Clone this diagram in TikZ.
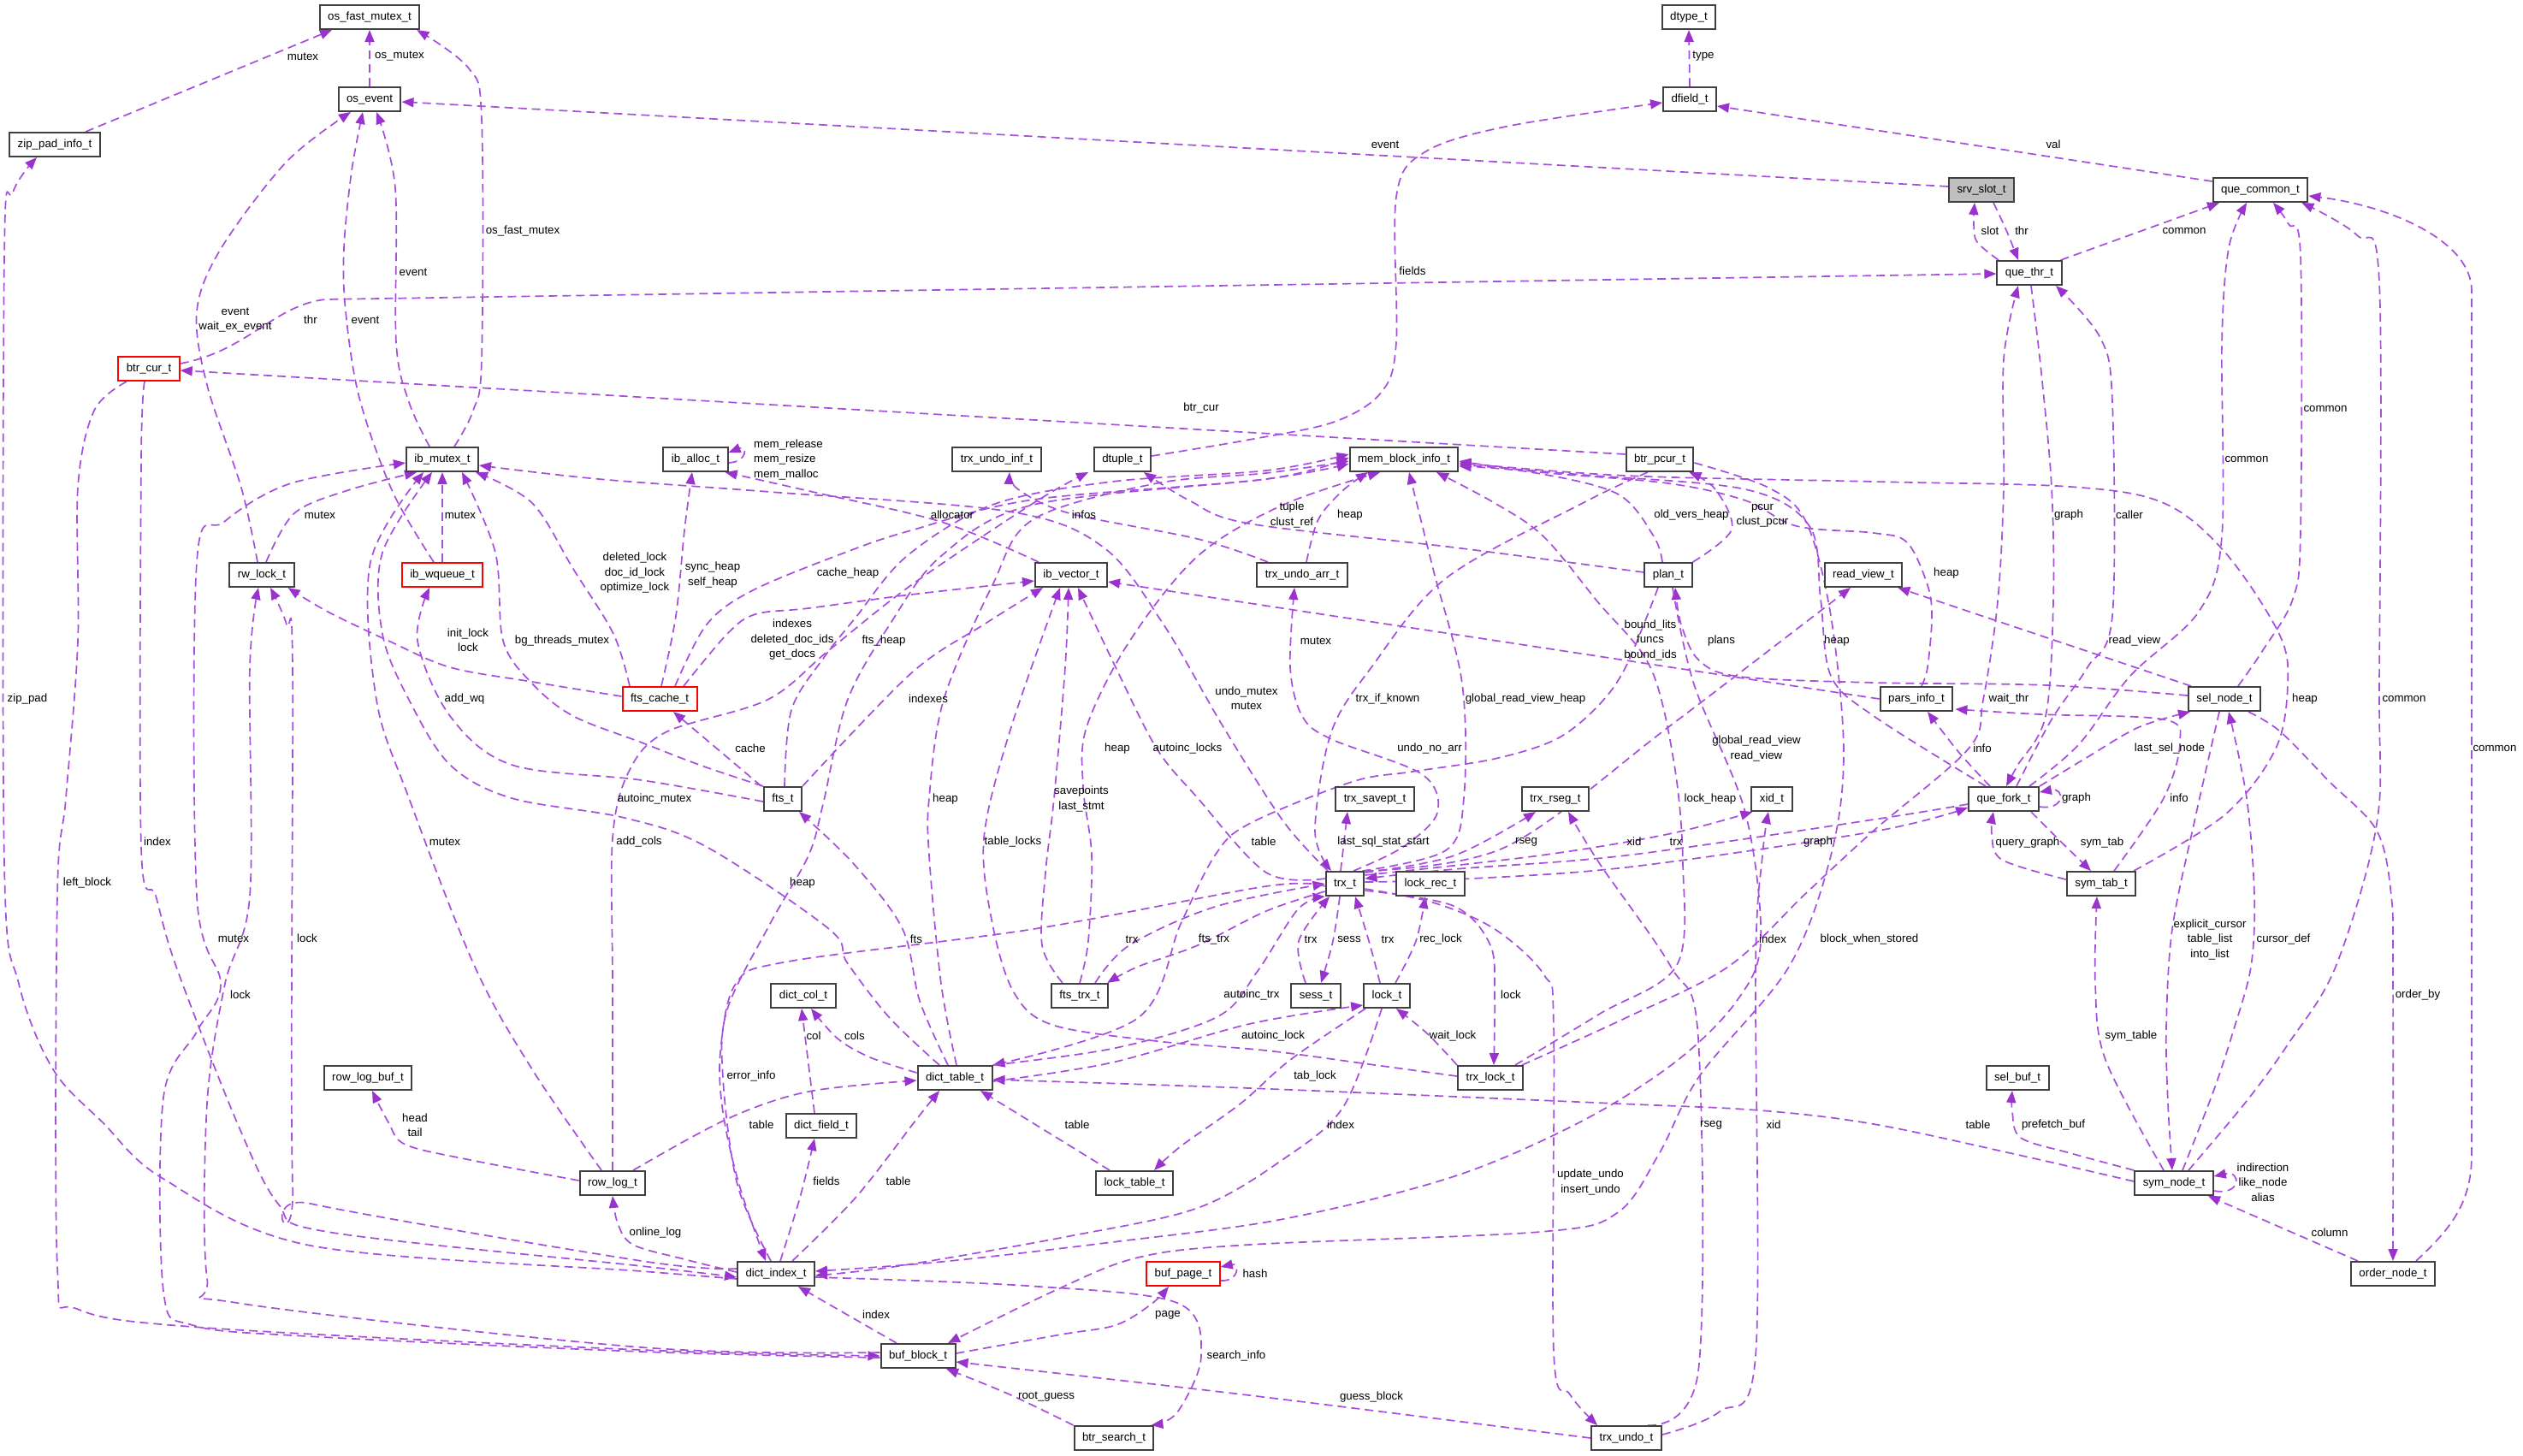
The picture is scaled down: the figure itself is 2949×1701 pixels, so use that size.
\documentclass[tikz,border=0pt]{standalone}
\usepackage{fontspec}
\newfontfamily\dxfont{Liberation Sans}
\usetikzlibrary{arrows.meta}
\pgfdeclarelayer{bg}
\pgfdeclarelayer{edges}
\pgfsetlayers{bg,edges,main}
\definecolor{edgec}{HTML}{A64FDC}
\definecolor{tipc}{HTML}{9A32CD}
\definecolor{boxc}{HTML}{404040}
\definecolor{slotfill}{HTML}{BFBFBF}
\newcommand\dxsize{\dxfont\fontsize{13.3}{17.5}\selectfont}
\tikzset{
  dbox/.style={draw=boxc, line width=2pt, fill=white, font=\dxsize, inner xsep=9.5pt, inner ysep=0pt, minimum height=28pt, text height=9.8pt, text depth=2.8pt},
  rbox/.style={dbox, draw=red},
  edge/.style={draw=edgec, line width=1.7pt, dash pattern=on 10pt off 6pt, -{Triangle[length=14pt,width=11pt,color=tipc]}},
  lbl/.style={font=\dxsize, inner sep=0pt, align=center},
  sm/.style={smooth, tension=0.55},
}
\begin{document}
\begin{tikzpicture}[x=1pt,y=-1pt]
\begin{pgfonlayer}{bg}
\fill[white] (0,0) rectangle (2949,1701);
\end{pgfonlayer}
\useasboundingbox (0,0) rectangle (2949,1701);
% ---------------- nodes
\node[dbox] (osfm) at (432,20) {os\_fast\_mutex\_t};
\node[dbox] (osev) at (432,116) {os\_event};
\node[dbox] (zip) at (64,169) {zip\_pad\_info\_t};
\node[dbox] (dtype) at (1974,20) {dtype\_t};
\node[dbox] (dfield) at (1975,116) {dfield\_t};
\node[dbox, fill=slotfill] (slot) at (2316,222) {srv\_slot\_t};
\node[dbox] (qcom) at (2642,222) {que\_common\_t};
\node[dbox] (qthr) at (2372,319) {que\_thr\_t};
\node[rbox] (bcur) at (174,431) {btr\_cur\_t};
\node[dbox] (ibm) at (517,537) {ib\_mutex\_t};
\node[dbox] (alloc) at (813,537) {ib\_alloc\_t};
\node[dbox] (uinf) at (1165,537) {trx\_undo\_inf\_t};
\node[dbox] (dtup) at (1312,537) {dtuple\_t};
\node[dbox] (mem) at (1641,537) {mem\_block\_info\_t};
\node[dbox] (pcur) at (1940,537) {btr\_pcur\_t};
\node[dbox] (rw) at (306,672) {rw\_lock\_t};
\node[rbox] (wq) at (517,672) {ib\_wqueue\_t};
\node[dbox] (vec) at (1252,672) {ib\_vector\_t};
\node[dbox] (uarr) at (1522,672) {trx\_undo\_arr\_t};
\node[dbox] (plan) at (1950,672) {plan\_t};
\node[dbox] (rv) at (2178,672) {read\_view\_t};
\node[rbox] (fcache) at (771,817) {fts\_cache\_t};
\node[dbox] (pinfo) at (2240,817) {pars\_info\_t};
\node[dbox] (sel) at (2600,817) {sel\_node\_t};
\node[dbox] (fts) at (915,934) {fts\_t};
\node[dbox] (svpt) at (1607,934) {trx\_savept\_t};
\node[dbox] (rseg) at (1818,934) {trx\_rseg\_t};
\node[dbox] (xid) at (2071,934) {xid\_t};
\node[dbox] (qfork) at (2342,934) {que\_fork\_t};
\node[dbox] (trx) at (1572,1033) {trx\_t};
\node[dbox] (lrec) at (1672,1033) {lock\_rec\_t};
\node[dbox] (stab) at (2456,1033) {sym\_tab\_t};
\node[dbox] (dcol) at (939,1164) {dict\_col\_t};
\node[dbox] (ftrx) at (1262,1164) {fts\_trx\_t};
\node[dbox] (sess) at (1538,1164) {sess\_t};
\node[dbox] (lock) at (1621,1164) {lock\_t};
\node[dbox] (dtab) at (1116,1260) {dict\_table\_t};
\node[dbox] (tlock) at (1742,1260) {trx\_lock\_t};
\node[dbox] (rlbuf) at (430,1260) {row\_log\_buf\_t};
\node[dbox] (dfld) at (960,1316) {dict\_field\_t};
\node[dbox] (selbuf) at (2358,1260) {sel\_buf\_t};
\node[dbox] (rlog) at (716,1383) {row\_log\_t};
\node[dbox] (ltab) at (1326,1383) {lock\_table\_t};
\node[dbox] (snode) at (2541,1383) {sym\_node\_t};
\node[dbox] (dind) at (907,1489) {dict\_index\_t};
\node[rbox] (bpage) at (1383,1489) {buf\_page\_t};
\node[dbox] (onode) at (2797,1489) {order\_node\_t};
\node[dbox] (bblk) at (1073,1585) {buf\_block\_t};
\node[dbox] (bsrch) at (1302,1681) {btr\_search\_t};
\node[dbox] (undo) at (1901,1681) {trx\_undo\_t};
% ---------------- edges
\begin{pgfonlayer}{edges}
\draw[edge] ([xshift=36pt]zip.north) -- ([xshift=-44pt]osfm.south);
\draw[edge] (osev.north) -- (osfm.south);
\draw[edge] plot[sm] coordinates {([xshift=14pt]ibm.north) (553,480) (563,420) (563,140) (548,80) ([xshift=-4pt]osfm.south east)};
\draw[edge] plot[sm] coordinates {([xshift=-15pt]ibm.north) (478,470) (463,400) (462,220) ([xshift=8pt]osev.south)};
\draw[edge] plot[sm] coordinates {([xshift=-5pt]rw.north) (282,570) (242,450) (230,364) (258,291) (335,189) ([xshift=-22pt]osev.south)};
\draw[edge] plot[sm] coordinates {([xshift=-10pt]wq.north) (459,575) (420,465) (404,364) (402,290) (411,200) ([xshift=-8pt]osev.south)};
\draw[edge] ([yshift=4pt]slot.west) -- ([yshift=-3pt]osev.east);
\draw[edge] ([yshift=6pt]bcur.east) .. controls (290,410) and (320,357) .. (380,350) -- ([yshift=-1pt]qthr.west);
\draw[edge] ([yshift=6pt]pcur.west) -- ([yshift=-2pt]bcur.east);
\draw[edge] plot[sm] coordinates {([yshift=4pt]dtup.east) (1460,514) (1560,493) (1615,458) (1632,400) (1632,230) (1665,178) (1760,148) ([yshift=-4pt]dfield.west)};
\draw[edge] ([yshift=10pt]qcom.west) -- ([yshift=-8pt]dfield.east);
\draw[edge] (dfield.north) -- (dtype.south);
\draw[edge] plot[sm] coordinates {([xshift=14pt]slot.south) (2345,269) ([xshift=-13pt]qthr.north)};
\draw[edge] plot[sm] coordinates {([xshift=-36pt]qthr.north) (2311,283) (2307,262) ([xshift=-8pt]slot.south)};
\draw[edge] ([xshift=-2pt]qthr.north east) -- ([xshift=-48pt]qcom.south);
\draw[edge] plot[sm] coordinates {([xshift=30pt]qfork.north) (2430,870) (2490,790) (2570,715) (2597,627) (2597,400) (2605,290) ([xshift=-16pt]qcom.south)};
\draw[edge] plot[sm] coordinates {([xshift=15pt]qfork.north) (2398,841) (2440,780) (2469,720) (2469,470) (2455,395) ([xshift=31pt]qthr.south)};
\draw[edge] plot[sm] coordinates {([xshift=2pt]qthr.south) (2386,436) (2398,570) (2400,703) (2391,837) (2358,895) ([xshift=3pt]qfork.north)};
\draw[edge] plot[sm] coordinates {([xshift=-2pt]tlock.north east) (1900,1190) (2020,1130) (2110,1045) (2190,971) (2301,875) (2318,818) (2335,703) (2342,570) (2342,420) ([xshift=-13pt]qthr.south)};
\draw[edge] plot[sm] coordinates {([xshift=16pt]sel.north) (2645,760) (2680,700) (2689,620) (2689,300) (2675,262) ([xshift=15pt]qcom.south)};
\draw[edge] plot[sm] coordinates {([xshift=17pt]snode.north) (2626,1287) (2674,1221) (2730,1130) (2778,963) (2781,800) (2781,330) (2755,275) ([xshift=-8pt]qcom.south east)};
\draw[edge] ([xshift=27pt]onode.north) .. controls (2860,1440) and (2889,1410) .. (2889,1350) -- (2889,340) .. controls (2889,280) and (2790,240) .. ([yshift=-7pt]qcom.east);
\draw[edge] plot[sm] coordinates {([xshift=28pt]sel.south) (2665,855) (2722,913) (2778,971) (2795,1047) (2797,1140) (onode.north)};
\draw[edge] plot[sm] coordinates {([yshift=4pt]sel.west) (2393,801) (2190,798) (2034,791) (1986,772) (1965,730) ([xshift=8pt]plan.south)};
\draw[edge] ([xshift=4pt]sel.north west) -- ([xshift=-6pt]rv.south east);
\draw[edge] plot[sm] coordinates {([xshift=-6pt]sel.south) (2565,960) (2539,1086) (2532,1200) (2534,1290) ([xshift=-2pt]snode.north)};
\draw[edge] plot[sm] coordinates {([xshift=10pt]snode.north) (2587,1276) (2611,1203) (2631,1130) (2635,1047) (2626,933) ([xshift=5pt]sel.south)};
\draw[edge] ([xshift=-41pt]onode.north) -- ([xshift=40pt]snode.south);
\draw[edge] ([yshift=-9pt]snode.east) .. controls (2620,1398) and (2620,1368) .. ([yshift=8pt]snode.east);
\draw[edge] plot[sm] coordinates {(snode.north west) (2420,1348) (2362,1330) (2352,1300) ([xshift=-6pt]selbuf.south)};
\draw[edge] plot[sm] coordinates {([yshift=2pt]snode.west) (2359,1350) (2190,1314) (2057,1298) (1889,1290) (1460,1272) ([yshift=-2pt]dtab.east)};
\draw[edge] plot[sm] coordinates {([xshift=-12pt]snode.north) (2461,1239) (2449,1150) ([xshift=-5pt]stab.south)};
\draw[edge] plot[sm] coordinates {([xshift=32pt]qfork.south) (2410,985) ([xshift=-12pt]stab.north)};
\draw[edge] plot[sm] coordinates {([yshift=5pt]stab.west) (2340,1005) (2328,975) ([xshift=-12pt]qfork.south)};
\draw[edge] plot[sm] coordinates {([xshift=15pt]stab.north) (2529,933) (2548,868) (2529,841) (2384,835) ([xshift=2pt,yshift=3pt]pinfo.south east)};
\draw[edge] plot[sm] coordinates {([xshift=-16pt]qfork.north) (2290,880) ([xshift=13pt]pinfo.south)};
\draw[edge] ([yshift=-9pt]qfork.east) .. controls (2414,948) and (2414,920) .. ([yshift=8pt]qfork.east);
\draw[edge] plot[sm] coordinates {(qfork.north east) (2440,885) (2500,850) ([xshift=-40pt]sel.south)};
\draw[edge] plot[sm] coordinates {([xshift=-21pt]qfork.north) (2190,837) (2140,790) (2128,700) (2115,615) (2040,572) (1850,555) ([yshift=-6pt]mem.east)};
\draw[edge] plot[sm] coordinates {([xshift=38pt]stab.north) (2601,952) (2660,875) (2674,799) (2664,741) (2601,646) (2529,588) (2420,569) (2190,563) (1900,556) ([yshift=-4pt]mem.east)};
\draw[edge] plot[sm] coordinates {([xshift=6pt]pinfo.north) (2253,780) (2258,722) (2253,684) (2229,634) (2190,623) (2100,615) (2040,585) (1950,565) (1800,552) ([yshift=-2pt]mem.east)};
\draw[edge] plot[sm] coordinates {([xshift=-7pt]plan.north) (1933,627) (1890,577) (1790,552) ([yshift=-8pt]mem.east)};
\draw[edge] plot[sm] coordinates {(plan.north east) (2024,619) (2005,572) ([xshift=-6pt]pcur.south east)};
\draw[edge] plot[sm] coordinates {([yshift=3pt]plan.west) (1700,640) (1460,612) (1390,585) ([xshift=25pt]dtup.south)};
\draw[edge] plot[sm] coordinates {([xshift=-12pt]plan.south) (1900,780) (1867,826) (1819,864) (1747,887) (1651,902) (1580,914) (1460,963) (1420,1000) (1380,1080) (1330,1190) (dtab.north east)};
\draw[edge] plot[sm] coordinates {([xshift=5pt]plan.south) (1980,800) (2040,950) (2058,1100) (2030,1170) (1960,1240) (1850,1310) (1700,1375) (1500,1425) (1300,1452) (1100,1475) ([yshift=3pt]dind.east)};
\draw[edge] plot[sm] coordinates {([yshift=-4pt]pcur.east) (2067,570) (2111,610) (2140,720) (2155,880) (2140,1000) (2091,1130) (1987,1257) (1939,1349) (1890,1418) (1800,1440) (1460,1455) (1330,1470) (1232,1509) ([xshift=35pt]bblk.north)};
\draw[edge] plot[sm] coordinates {([xshift=-14pt]pcur.south) (1850,588) (1690,676) (1603,780) (1556,856) (1537,971) ([xshift=-16pt]trx.north)};
\draw[edge] (pinfo.west) -- ([yshift=-8pt]vec.east);
\draw[edge] plot[sm] coordinates {(trx.north east) (1760,990) (1950,850) ([xshift=-15pt]rv.south)};
\draw[edge] plot[sm] coordinates {([xshift=-20pt]trx.north) (1500,960) (1430,850) (1360,730) (1290,640) (1180,598) (900,575) (700,560) ([yshift=-7pt]ibm.east)};
\draw[edge] plot[sm] coordinates {([xshift=-3pt]trx.north east) (1690,994) (1711,933) (1709,799) (1675,665) ([xshift=6pt]mem.south)};
\draw[edge] plot[sm] coordinates {([xshift=10pt]trx.north) (1640,990) (1680,950) (1662,905) (1556,864) (1522,837) (1508,780) ([xshift=-9pt]uarr.south)};
\draw[edge] ([xshift=-5pt]trx.north) -- ([xshift=-32pt]svpt.south);
\draw[edge] plot[sm] coordinates {([yshift=-2pt]trx.north east) (1700,1000) ([xshift=-23pt]rseg.south)};
\draw[edge] plot[sm] coordinates {([yshift=-5pt]trx.north east) (1800,1000) (1950,975) ([xshift=2pt]xid.south west)};
\draw[edge] plot[sm] coordinates {([yshift=-6pt]qfork.west) (2190,958) (1900,1000) (1700,1016) ([yshift=6pt]trx.east)};
\draw[edge] plot[sm] coordinates {([yshift=2pt]trx.east) (1700,1028) (1900,1014) (2190,972) ([yshift=-10pt]qfork.west)};
\draw[edge] plot[sm] coordinates {([yshift=6pt]trx.west) (1480,1020) (1400,933) (1352,875) (1304,780) ([xshift=8pt]vec.south)};
\draw[edge] plot[sm] coordinates {([xshift=-6pt]trx.south) (1558,1100) ([xshift=6pt]sess.north)};
\draw[edge] plot[sm] coordinates {([xshift=-12pt]sess.north) (1518,1100) ([xshift=-18pt]trx.south)};
\draw[edge] plot[sm] coordinates {([xshift=-8pt]lock.north) (1600,1100) ([xshift=12pt]trx.south)};
\draw[edge] plot[sm] coordinates {([xshift=10pt]lock.north) (1655,1100) ([xshift=-6pt]lrec.south)};
\draw[edge] plot[sm] coordinates {(dtab.north east) (1304,1225) (1424,1188) (1470,1135) (1517,1063) (trx.south west)};
\draw[edge] plot[sm] coordinates {([yshift=-4pt]dtab.east) (1300,1242) (1460,1197) ([yshift=4pt]lock.south west)};
\draw[edge] plot[sm] coordinates {([xshift=18pt]ftrx.north) (1320,1105) (1420,1060) (trx.west)};
\draw[edge] plot[sm] coordinates {([yshift=-9pt]trx.west) (1480,1065) (1400,1105) (1330,1130) ([xshift=-2pt]ftrx.north east)};
\draw[edge] plot[sm] coordinates {([yshift=-3pt]trx.west) (1480,1036) (1208,1086) (921,1124) (860,1150) (842,1230) (845,1300) (864,1385) ([xshift=-12pt]dind.north)};
\draw[edge] plot[sm] coordinates {([xshift=-6pt]dind.north) (862,1385) (845,1260) (850,1180) (900,1080) (945,1000) (962,940) (990,820) (1040,730) (1100,650) (1208,590) (1480,560) ([yshift=-5pt]mem.west)};
\draw[edge] plot[sm] coordinates {([xshift=5pt]dind.north) (935,1400) ([xshift=-8pt]dfld.south)};
\draw[edge] plot[sm] coordinates {([xshift=19pt]dind.north) (1000,1400) (1070,1310) ([xshift=-18pt]dtab.south)};
\draw[edge] ([xshift=-8pt]dfld.north) -- ([xshift=-2pt]dcol.south);
\draw[edge] plot[sm] coordinates {([yshift=6pt]dtab.west) (1017,1236) (979,1214) ([xshift=9pt]dcol.south)};
\draw[edge] plot[sm] coordinates {([xshift=24pt]rlog.north) (850,1308) (945,1276) ([yshift=-3pt]dtab.west)};
\draw[edge] ([xshift=-29pt]ltab.north) -- ([xshift=30pt]dtab.south);
\draw[edge] plot[sm] coordinates {([xshift=-25pt]lock.south) (1508,1239) (1450,1290) (1380,1340) ([xshift=23pt]ltab.north)};
\draw[edge] plot[sm] coordinates {([xshift=-6pt]lock.south) (1570,1294) (1500,1355) (1400,1412) (1250,1445) (1050,1480) ([yshift=-2pt]dind.east)};
\draw[edge] plot[sm] coordinates {(tlock.north west) (1668,1208) ([xshift=11pt]lock.south)};
\draw[edge] plot[sm] coordinates {([yshift=-8pt]trx.east) (1699,1059) (1742,1105) (1747,1166) ([xshift=4pt]tlock.north)};
\draw[edge] plot[sm] coordinates {([xshift=-10pt]tlock.north east) (1870,1185) (1960,1128) (1967,1009) (1957,894) (1929,780) (1867,703) (1804,627) (1747,588) ([xshift=38pt]mem.south)};
\draw[edge] plot[sm] coordinates {([yshift=2pt]tlock.west) (1600,1244) (1480,1228) (1352,1217) (1230,1198) (1185,1160) (1160,1080) (1150,980) (1180,856) ([xshift=-13pt]vec.south)};
\draw[edge] plot[sm] coordinates {([xshift=-20pt]ftrx.north) (1218,1105) (1222,1020) (1232,933) (1245,780) ([xshift=-3pt]vec.south)};
\draw[edge] plot[sm] coordinates {(ftrx.north) (1272,1100) (1276,1000) (1266,920) (1270,850) (1320,750) (1400,650) (1500,590) ([xshift=-28pt]mem.south)};
\draw[edge] plot[sm] coordinates {([xshift=-40pt]uarr.north) (1400,630) (1250,600) (1190,572) ([xshift=15pt]uinf.south)};
\draw[edge] plot[sm] coordinates {([xshift=5pt]uarr.north) (1541,607) (1570,573) ([xshift=-42pt]mem.south)};
\draw[edge] plot[sm] coordinates {([xshift=-35pt]fcache.north) (717,741) (670,665) (622,588) ([xshift=-4pt]ibm.south east)};
\draw[edge] plot[sm] coordinates {([yshift=3pt]fcache.west) (622,797) (526,780) (454,749) (383,715) ([xshift=-8pt]rw.south east)};
\draw[edge] plot[sm] coordinates {([xshift=2pt]fcache.north) (790,720) (800,620) ([xshift=-4pt]alloc.south)};
\draw[edge] plot[sm] coordinates {([xshift=18pt]fcache.north) (826,730) (880,690) (990,645) (1065,620) (1208,584) (1480,560) ([yshift=2pt]mem.west)};
\draw[edge] plot[sm] coordinates {([xshift=28pt]fcache.north) (850,741) (883,718) (945,711) (1065,695) ([yshift=-7pt]vec.west)};
\draw[edge] ([xshift=-2pt]fts.north west) -- ([xshift=16pt]fcache.south);
\draw[edge] plot[sm] coordinates {(fts.north west) (820,895) (750,868) (670,837) (622,799) (588,749) (579,646) ([xshift=23pt]ibm.south)};
\draw[edge] plot[sm] coordinates {([yshift=-3pt]fts.west) (750,912) (598,894) (526,837) (488,749) ([xshift=-15pt]wq.south)};
\draw[edge] plot[sm] coordinates {([xshift=2pt]fts.north) (925,830) (962,770) (1000,722) (1060,650) (1160,590) (1300,563) (1480,550) ([yshift=6pt]mem.west)};
\draw[edge] plot[sm] coordinates {(fts.north east) (1065,787) (1150,730) ([xshift=-33pt]vec.south)};
\draw[edge] plot[sm] coordinates {([xshift=-18pt]dtab.north) (1040,1190) (990,1125) (969,1086) (826,990) (730,956) (598,933) (526,894) (478,818) (447,741) (447,646) ([xshift=-12pt]ibm.south)};
\draw[edge] plot[sm] coordinates {([xshift=-8pt]dtab.north) (1075,1170) (1055,1086) (998,1010) ([xshift=-4pt]fts.south east)};
\draw[edge] plot[sm] coordinates {([xshift=2pt]dtab.north) (1100,1150) (1086,1000) (1086,933) (1103,818) (1160,684) (1208,607) (1352,565) (1480,553) ([yshift=-2pt]mem.west)};
\draw[edge] plot[sm] coordinates {([xshift=-13pt]rlog.north) (622,1250) (555,1130) (478,933) (440,818) (433,657) ([xshift=-22pt]ibm.south)};
\draw[edge] plot[sm] coordinates {(rlog.north) (716,1150) (716,980) (735,902) (778,856) (897,818) (969,760) (1065,684) (1208,588) ([xshift=-40pt]dtup.south)};
\draw[edge] plot[sm] coordinates {([yshift=3pt]rlog.west) (550,1356) (474,1338) (454,1312) ([xshift=5pt]rlbuf.south)};
\draw[edge] plot[sm] coordinates {([yshift=2pt]dind.west) (800,1472) (740,1455) (722,1430) (rlog.south)};
\draw[edge] plot[sm] coordinates {([xshift=-5pt]bcur.south) (165,540) (165,990) (182,1047) (206,1130) (277,1312) (325,1407) (383,1440) (750,1480) ([yshift=-4pt]dind.west)};
\draw[edge] plot[sm] coordinates {([xshift=-26pt]bcur.south) (110,480) (91,570) (91,750) (77,933) (67,1047) (67,1480) (90,1530) (239,1552) (750,1578) (bblk.west)};
\draw[edge] plot[sm] coordinates {([yshift=-6pt]dind.west) (750,1486) (363,1456) (191,1378) (120,1312) (62,1250) (22,1150) (5,1009) (5,300) (15,225) ([xshift=-21pt]zip.south)};
\draw[edge] plot[sm] coordinates {([yshift=6pt]dind.west) (750,1474) (363,1407) (342,1385) (342,780) (335,730) ([xshift=10pt]rw.south)};
\draw[edge] plot[sm] coordinates {([yshift=4pt]bblk.west) (750,1575) (277,1523) (242,1494) (242,1290) (263,1150) (292,1047) (292,780) ([xshift=-4pt]rw.south)};
\draw[edge] plot[sm] coordinates {([yshift=-2pt]bblk.west) (750,1580) (359,1562) (225,1549) (191,1509) (191,1283) (230,1206) (258,1150) (230,1047) (230,657) (262,610) (340,565) ([yshift=-4pt]ibm.west)};
\draw[edge] plot[sm] coordinates {([xshift=5pt]rw.north) (344,600) (407,573) ([xshift=-30pt]ibm.south)};
\draw[edge] (wq.north) -- (ibm.south);
\draw[edge] plot[sm] coordinates {([xshift=5pt]vec.north west) (1100,610) (950,575) ([xshift=-4pt]alloc.south east)};
\draw[edge] ([yshift=-4pt]alloc.east) .. controls (874,540) and (874,520) .. ([yshift=8pt]alloc.east);
\draw[edge] ([xshift=-25pt]bblk.north) -- ([xshift=26pt]dind.south);
\draw[edge] plot[sm] coordinates {([yshift=3pt]bblk.east) (1240,1560) (1304,1549) (1345,1525) ([xshift=-17pt]bpage.south)};
\draw[edge] ([yshift=-8pt]bpage.east) .. controls (1449,1498) and (1449,1476) .. ([yshift=8pt]bpage.east);
\draw[edge] plot[sm] coordinates {(undo.west) (1460,1631) ([yshift=-7pt]bblk.east)};
\draw[edge] plot[sm] coordinates {(bsrch.north west) (1180,1630) ([xshift=33pt]bblk.south)};
\draw[edge] plot[sm] coordinates {([yshift=-4pt]dind.east) (1200,1503) (1376,1523) (1404,1585) (1376,1651) ([xshift=-4pt]bsrch.north east)};
\draw[edge] plot[sm] coordinates {([yshift=-6pt]trx.east) (1675,1055) (1747,1086) (1805,1140) (1816,1200) (1816,1580) (1835,1630) ([xshift=-34pt]undo.north)};
\draw[edge] plot[sm] coordinates {([xshift=25pt]undo.north) (1985,1603) (1985,1214) (1953,1130) (1870,1010) ([xshift=15pt]rseg.south)};
\draw[edge] plot[sm] coordinates {([yshift=4pt]undo.east) (2010,1650) (2052,1585) (2052,1130) (2060,1000) ([xshift=-4pt]xid.south)};
\end{pgfonlayer}
% ---------------- labels
\node[lbl] (l1) at (354,66) {mutex};
\node[lbl] (l2) at (467,66) {os\_mutex};
\node[lbl] (l3) at (611,270) {os\_fast\_mutex};
\node[lbl] (l4) at (483,318) {event};
\node[lbl] (l5) at (275,374) {event\\wait\_ex\_event};
\node[lbl] (l6) at (363,374) {thr};
\node[lbl] (l7) at (427,374) {event};
\node[lbl] (l8) at (1404,477) {btr\_cur};
\node[lbl, anchor=west, align=left] (l9) at (881,537) {mem\_release\\mem\_resize\\mem\_malloc};
\node[lbl] (l10) at (1619,169) {event};
\node[lbl] (l11) at (1991,66) {type};
\node[lbl] (l12) at (1651,317) {fields};
\node[lbl] (l13) at (2400,169) {val};
\node[lbl] (l14) at (2326,270) {slot};
\node[lbl] (l15) at (2363,270) {thr};
\node[lbl] (l16) at (2553,270) {common};
\node[lbl] (l17) at (2718,478) {common};
\node[lbl] (l18) at (2626,537) {common};
\node[lbl] (l19) at (374,602) {mutex};
\node[lbl] (l20) at (538,602) {mutex};
\node[lbl] (l21) at (742,670) {deleted\_lock\\doc\_id\_lock\\optimize\_lock};
\node[lbl] (l22) at (547,748) {init\_lock\\lock};
\node[lbl] (l23) at (657,749) {bg\_threads\_mutex};
\node[lbl] (l24) at (32,817) {zip\_pad};
\node[lbl] (l25) at (543,817) {add\_wq};
\node[lbl] (l26) at (765,934) {autoinc\_mutex};
\node[lbl] (l27) at (184,984) {index};
\node[lbl] (l28) at (520,984) {mutex};
\node[lbl] (l29) at (747,984) {add\_cols};
\node[lbl] (l30) at (102,1032) {left\_block};
\node[lbl] (l31) at (273,1097) {mutex};
\node[lbl] (l32) at (359,1097) {lock};
\node[lbl] (l33) at (1113,602) {allocator};
\node[lbl] (l34) at (1267,602) {infos};
\node[lbl] (l35) at (991,670) {cache\_heap};
\node[lbl] (l36) at (833,672) {sync\_heap\\self\_heap};
\node[lbl] (l37) at (926,748) {indexes\\deleted\_doc\_ids\\get\_docs};
\node[lbl] (l38) at (1033,749) {fts\_heap};
\node[lbl] (l39) at (1085,817) {indexes};
\node[lbl] (l40) at (877,875) {cache};
\node[lbl] (l41) at (1306,875) {heap};
\node[lbl] (l42) at (1388,875) {autoinc\_locks};
\node[lbl] (l43) at (1105,934) {heap};
\node[lbl] (l44) at (1264,934) {savepoints\\last\_stmt};
\node[lbl] (l45) at (1184,984) {table\_locks};
\node[lbl] (l46) at (938,1032) {heap};
\node[lbl] (l47) at (1071,1098) {fts};
\node[lbl] (l48) at (1323,1098) {trx};
\node[lbl] (l49) at (1419,1098) {fts\_trx};
\node[lbl] (l50) at (1457,816) {undo\_mutex\\mutex};
\node[lbl] (l51) at (1477,984) {table};
\node[lbl] (l52) at (1510,602) {tuple\\clust\_ref};
\node[lbl] (l53) at (1578,602) {heap};
\node[lbl] (l54) at (1977,602) {old\_vers\_heap};
\node[lbl] (l55) at (2060,603) {pcur\\clust\_pcur};
\node[lbl] (l56) at (1538,749) {mutex};
\node[lbl] (l57) at (1929,748) {bound\_lits\\funcs\\bound\_ids};
\node[lbl] (l58) at (2012,749) {plans};
\node[lbl] (l59) at (2147,749) {heap};
\node[lbl] (l60) at (1622,817) {trx\_if\_known};
\node[lbl] (l61) at (1783,817) {global\_read\_view\_heap};
\node[lbl] (l62) at (1671,875) {undo\_no\_arr};
\node[lbl] (l63) at (2053,875) {global\_read\_view\\read\_view};
\node[lbl] (l64) at (1999,934) {lock\_heap};
\node[lbl] (l65) at (1617,984) {last\_sql\_stat\_start};
\node[lbl] (l66) at (1784,984) {rseg};
\node[lbl] (l67) at (1910,984) {xid};
\node[lbl] (l68) at (1959,984) {trx};
\node[lbl] (l69) at (2125,984) {graph};
\node[lbl] (l70) at (1532,1098) {trx};
\node[lbl] (l71) at (1577,1098) {sess};
\node[lbl] (l72) at (1622,1098) {trx};
\node[lbl] (l73) at (1684,1098) {rec\_lock};
\node[lbl] (l74) at (2072,1098) {index};
\node[lbl] (l75) at (2185,1098) {block\_when\_stored};
\node[lbl] (l76) at (2275,670) {heap};
\node[lbl] (l77) at (2495,749) {read\_view};
\node[lbl] (l78) at (2348,817) {wait\_thr};
\node[lbl] (l79) at (2317,875) {info};
\node[lbl] (l80) at (2536,875) {last\_sel\_node};
\node[lbl] (l81) at (2427,933) {graph};
\node[lbl] (l82) at (2547,933) {info};
\node[lbl] (l83) at (2694,817) {heap};
\node[lbl] (l84) at (2810,817) {common};
\node[lbl] (l85) at (2916,875) {common};
\node[lbl] (l86) at (2370,985) {query\_graph};
\node[lbl] (l87) at (2457,985) {sym\_tab};
\node[lbl] (l88) at (2418,602) {graph};
\node[lbl] (l89) at (2489,602) {caller};
\node[lbl] (l90) at (2583,1098) {explicit\_cursor\\table\_list\\into\_list};
\node[lbl] (l91) at (2669,1098) {cursor\_def};
\node[lbl] (l92) at (2826,1163) {order\_by};
\node[lbl] (l93) at (2491,1211) {sym\_table};
\node[lbl] (l94) at (2312,1315) {table};
\node[lbl] (l95) at (2400,1315) {prefetch\_buf};
\node[lbl] (l96) at (2645,1382) {indirection\\like\_node\\alias};
\node[lbl] (l97) at (2723,1441) {column};
\node[lbl] (l98) at (951,1211) {col};
\node[lbl] (l99) at (999,1211) {cols};
\node[lbl] (l100) at (878,1258) {error\_info};
\node[lbl] (l101) at (890,1315) {table};
\node[lbl] (l102) at (966,1381) {fields};
\node[lbl] (l103) at (1050,1381) {table};
\node[lbl] (l104) at (1259,1315) {table};
\node[lbl] (l105) at (766,1441) {online\_log};
\node[lbl] (l106) at (1024,1537) {index};
\node[lbl] (l107) at (1365,1537) {page};
\node[lbl] (l108) at (1467,1489) {hash};
\node[lbl] (l109) at (1445,1585) {search\_info};
\node[lbl] (l110) at (1223,1633) {root\_guess};
\node[lbl] (l111) at (1603,1633) {guess\_block};
\node[lbl] (l112) at (1463,1163) {autoinc\_trx};
\node[lbl] (l113) at (1488,1211) {autoinc\_lock};
\node[lbl] (l114) at (1537,1258) {tab\_lock};
\node[lbl] (l115) at (1698,1211) {wait\_lock};
\node[lbl] (l116) at (1766,1163) {lock};
\node[lbl] (l117) at (1567,1315) {index};
\node[lbl] (l118) at (1859,1382) {update\_undo\\insert\_undo};
\node[lbl] (l119) at (2000,1315) {rseg};
\node[lbl] (l120) at (2073,1315) {xid};
\node[lbl] (l121) at (485,1315) {head\\tail};
\node[lbl] (l122) at (281,1163) {lock};
\end{tikzpicture}
\end{document}
